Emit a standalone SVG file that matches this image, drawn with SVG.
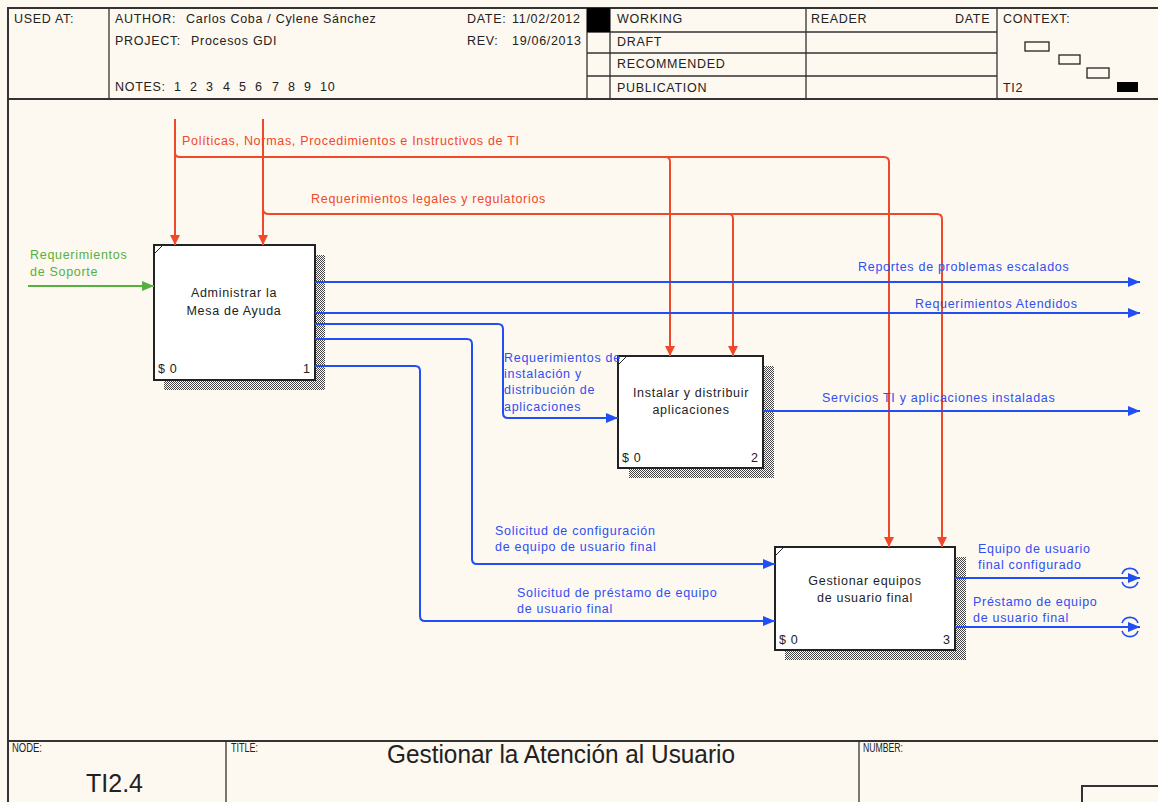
<svg xmlns="http://www.w3.org/2000/svg" width="1158" height="802" viewBox="0 0 1158 802">
  <defs>
    <style>
      text { font-family: "Liberation Sans", Arial, sans-serif; font-size: 12.5px; letter-spacing: 0.7px; }
      .frame { fill: none; stroke: #333; stroke-width: 2; }
      .thin { fill: none; stroke: #333; stroke-width: 1.3; }
      .hdr { fill: #222; }
      .small { font-size: 12px; letter-spacing: 0; fill: #222; }
      .box { fill: #fff; stroke: #222; stroke-width: 2; }
      .shadow { fill: url(#hatch); }
      .btxt { fill: #222; text-anchor: middle; }
      .corner { fill: #222; }
      .ctl { fill: none; stroke: #f0482a; stroke-width: 2; }
      .flow { fill: none; stroke: #1f4ff5; stroke-width: 2; }
      .inp { fill: none; stroke: #55b040; stroke-width: 2; }
      .lred { fill: #f0482a; }
      .lblue { fill: #2f4ff0; }
      .lgreen { fill: #55b040; }
      .tun { fill: none; stroke: #1f4ff5; stroke-width: 1.6; }
      .big { font-size: 25px; letter-spacing: 0; fill: #222; }
    </style>
    <pattern id="hatch" width="2" height="2" patternUnits="userSpaceOnUse">
      <rect width="2" height="2" fill="#fff"/>
      <rect width="1" height="1" fill="#444"/>
      <rect x="1" y="1" width="1" height="1" fill="#444"/>
    </pattern>
    <marker id="aRed" markerUnits="userSpaceOnUse" markerWidth="10" markerHeight="12" refX="10" refY="5" orient="auto">
      <path d="M0,0 L10,5 L0,10 z" fill="#f0482a"/>
    </marker>
    <marker id="aBlue" markerUnits="userSpaceOnUse" markerWidth="12" markerHeight="10" refX="12" refY="5" orient="auto">
      <path d="M0,0 L12,5 L0,10 z" fill="#1f4ff5"/>
    </marker>
    <marker id="aGreen" markerUnits="userSpaceOnUse" markerWidth="12" markerHeight="10" refX="12" refY="5" orient="auto">
      <path d="M0,0 L12,5 L0,10 z" fill="#55b040"/>
    </marker>
  </defs>

  <rect width="1158" height="802" fill="#fdf8f0"/>

  <!-- header block -->
  <g id="header">
    <path class="frame" d="M8,802 V8 H1158"/>
    <path class="frame" d="M8,99 H1158"/>
    <path class="thin" d="M109,8 V99 M587,8 V99 M610,8 V99 M806,8 V99 M997,8 V99"/>
    <path class="thin" d="M587,32 H997 M587,53 H997 M587,76 H997"/>
    <rect x="587" y="8" width="23" height="24" fill="#000"/>
    <text class="hdr" x="14" y="23">USED AT:</text>
    <text class="hdr" x="115" y="23">AUTHOR:</text>
    <text class="hdr" x="186" y="23">Carlos Coba / Cylene Sánchez</text>
    <text class="hdr" x="115" y="45">PROJECT:</text>
    <text class="hdr" x="191" y="45">Procesos GDI</text>
    <text class="hdr" x="115" y="91">NOTES:</text>
    <g class="hdr">
      <text x="174" y="91">1</text><text x="190" y="91">2</text><text x="206" y="91">3</text>
      <text x="223" y="91">4</text><text x="239" y="91">5</text><text x="255" y="91">6</text>
      <text x="272" y="91">7</text><text x="288" y="91">8</text><text x="304" y="91">9</text>
      <text x="320" y="91">10</text>
    </g>
    <text class="hdr" x="467" y="23">DATE:</text>
    <text class="hdr" x="512" y="23">11/02/2012</text>
    <text class="hdr" x="467" y="45">REV:</text>
    <text class="hdr" x="512" y="45">19/06/2013</text>
    <text class="hdr" x="617" y="23">WORKING</text>
    <text class="hdr" x="617" y="46">DRAFT</text>
    <text class="hdr" x="617" y="68">RECOMMENDED</text>
    <text class="hdr" x="617" y="92">PUBLICATION</text>
    <text class="hdr" x="811" y="23">READER</text>
    <text class="hdr" x="955" y="23">DATE</text>
    <text class="hdr" x="1003" y="23">CONTEXT:</text>
    <text class="hdr" x="1003" y="92">TI2</text>
    <rect x="1025" y="42" width="24" height="9" fill="none" stroke="#222" stroke-width="1.3"/>
    <rect x="1059" y="55" width="21" height="9" fill="none" stroke="#222" stroke-width="1.3"/>
    <rect x="1087" y="68" width="22" height="10" fill="none" stroke="#222" stroke-width="1.3"/>
    <rect x="1117" y="82" width="21" height="10" fill="#000"/>
  </g>

  <!-- footer block -->
  <g id="footer">
    <path class="frame" d="M8,741 H1158"/>
    <path class="thin" d="M226,741 V802 M859,741 V802"/>
    <path class="frame" d="M1082,802 V786 H1158"/>
    <text class="small" x="12" y="752" textLength="30" lengthAdjust="spacingAndGlyphs">NODE:</text>
    <text class="small" x="231" y="752" textLength="27" lengthAdjust="spacingAndGlyphs">TITLE:</text>
    <text class="small" x="863" y="752" textLength="40" lengthAdjust="spacingAndGlyphs">NUMBER:</text>
    <text class="big" x="387" y="763" textLength="348" lengthAdjust="spacingAndGlyphs">Gestionar la Atención al Usuario</text>
    <text class="big" x="86" y="792" textLength="57" lengthAdjust="spacingAndGlyphs">TI2.4</text>
  </g>

  <!-- activity boxes -->
  <g id="node-1">
    <path class="shadow" d="M315,255 H325 V390 H164 V380 H315 z"/>
    <rect class="box" x="154" y="245" width="161" height="135"/>
    <path d="M154,254 L163,245" stroke="#222" stroke-width="1"/>
    <text class="btxt" x="234" y="297">Administrar la</text>
    <text class="btxt" x="234" y="315">Mesa de Ayuda</text>
    <text class="corner" x="158" y="373">$ 0</text>
    <text class="corner" x="303" y="373">1</text>
  </g>

  <g id="node-2">
    <path class="shadow" d="M763,366 H774 V478 H629 V468 H763 z"/>
    <rect class="box" x="618" y="356" width="145" height="112"/>
    <path d="M618,365 L627,356" stroke="#222" stroke-width="1"/>
    <text class="btxt" x="691" y="397">Instalar y distribuir</text>
    <text class="btxt" x="691" y="414">aplicaciones</text>
    <text class="corner" x="622" y="462">$ 0</text>
    <text class="corner" x="751" y="462">2</text>
  </g>

  <g id="node-3">
    <path class="shadow" d="M955,557 H966 V660 H785 V650 H955 z"/>
    <rect class="box" x="775" y="547" width="180" height="103"/>
    <path d="M775,556 L784,547" stroke="#222" stroke-width="1"/>
    <text class="btxt" x="865" y="585">Gestionar equipos</text>
    <text class="btxt" x="865" y="602">de usuario final</text>
    <text class="corner" x="779" y="644">$ 0</text>
    <text class="corner" x="943" y="644">3</text>
  </g>

  <!-- arrows -->
  <g id="connectors">
    <!-- controls -->
    <path class="ctl" d="M175,119 V245" marker-end="url(#aRed)"/>
    <path class="ctl" d="M175,153 q0,4 5,4 H884 q5,0 5,5 V547" marker-end="url(#aRed)"/>
    <path class="ctl" d="M666,157 q4,0 4,5 V356" marker-end="url(#aRed)"/>
    <path class="ctl" d="M263,119 V245" marker-end="url(#aRed)"/>
    <path class="ctl" d="M263,209 q0,5 6,5 H937 q5,0 5,5 V547" marker-end="url(#aRed)"/>
    <path class="ctl" d="M729,214 q4,0 4,5 V356" marker-end="url(#aRed)"/>

    <!-- input -->
    <path class="inp" d="M28,286 H154" marker-end="url(#aGreen)"/>

    <!-- outputs of node 1 -->
    <path class="flow" d="M315,282 H1140" marker-end="url(#aBlue)"/>
    <path class="flow" d="M315,313 H1140" marker-end="url(#aBlue)"/>
    <path class="flow" d="M315,324 H498 q5,0 5,5 V413 q0,5 5,5 H618" marker-end="url(#aBlue)"/>
    <path class="flow" d="M315,339 H467 q5,0 5,5 V559 q0,5 5,5 H775" marker-end="url(#aBlue)"/>
    <path class="flow" d="M315,366 H415 q5,0 5,5 V616 q0,5 5,5 H775" marker-end="url(#aBlue)"/>

    <!-- output of node 2 -->
    <path class="flow" d="M763,411 H1140" marker-end="url(#aBlue)"/>

    <!-- outputs of node 3 (tunnelled) -->
    <path class="flow" d="M955,578 H1140" marker-end="url(#aBlue)"/>
    <path class="flow" d="M955,627 H1140" marker-end="url(#aBlue)"/>
    <path class="tun" d="M1122,574 A8.5,8.5 0 0 1 1138,574 M1122,582 A8.5,8.5 0 0 0 1138,582"/>
    <path class="tun" d="M1122,623 A8.5,8.5 0 0 1 1138,623 M1122,631 A8.5,8.5 0 0 0 1138,631"/>
  </g>

  <!-- arrow labels -->
  <g id="labels">
    <text class="lred" x="182" y="145">Políticas, Normas, Procedimientos e Instructivos de TI</text>
    <text class="lred" x="311" y="203">Requerimientos legales y regulatorios</text>
    <text class="lgreen" x="30" y="259">Requerimientos</text>
    <text class="lgreen" x="30" y="276">de Soporte</text>
    <text class="lblue" x="858" y="271">Reportes de problemas escalados</text>
    <text class="lblue" x="915" y="308">Requerimientos Atendidos</text>
    <text class="lblue" x="504" y="362">Requerimientos de</text>
    <text class="lblue" x="504" y="378">instalación y</text>
    <text class="lblue" x="504" y="394">distribución de</text>
    <text class="lblue" x="504" y="411">aplicaciones</text>
    <text class="lblue" x="822" y="402">Servicios TI y aplicaciones instaladas</text>
    <text class="lblue" x="495" y="535">Solicitud de configuración</text>
    <text class="lblue" x="495" y="551">de equipo de usuario final</text>
    <text class="lblue" x="517" y="597">Solicitud de préstamo de equipo</text>
    <text class="lblue" x="517" y="613">de usuario final</text>
    <text class="lblue" x="978" y="553">Equipo de usuario</text>
    <text class="lblue" x="978" y="569">final configurado</text>
    <text class="lblue" x="973" y="606">Préstamo de equipo</text>
    <text class="lblue" x="973" y="622">de usuario final</text>
  </g>
</svg>
